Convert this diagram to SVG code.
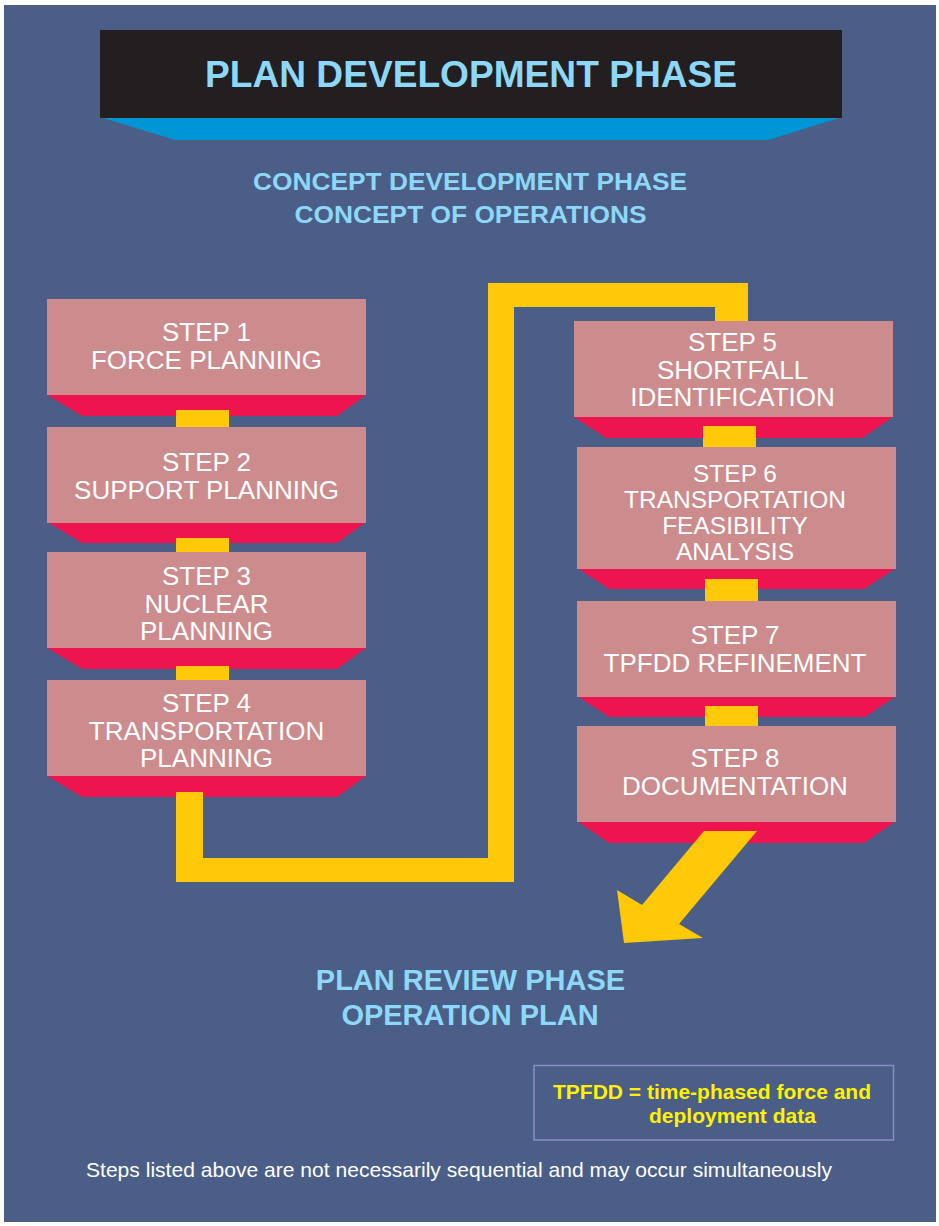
<svg xmlns="http://www.w3.org/2000/svg" width="939" height="1226" viewBox="0 0 939 1226">
<style>
.box{fill:#cc8b8c}
.base{fill:#ee1450}
.conn{fill:#ffc90a}
.st{font-family:"Liberation Sans",Arial,sans-serif;font-size:26px;fill:#ffffff;text-anchor:middle}
.st6{font-size:24.5px}
.hd{font-family:"Liberation Sans",Arial,sans-serif;font-weight:bold;fill:#8dd8f8;text-anchor:middle}
</style>
<rect x="0" y="0" width="939" height="1226" fill="#ffffff"/>
<rect x="4" y="5" width="932" height="1217" fill="#4a5e87"/>

<g id="title">
<polygon points="100,117 842,117 768,140 175,140" fill="#0096d6"/>
<rect x="100" y="30" width="742" height="88" fill="#231f20"/>
<text class="hd" x="471" y="87" font-size="37" textLength="532" lengthAdjust="spacingAndGlyphs">PLAN DEVELOPMENT PHASE</text>
</g>

<g id="concept-heading">
<text class="hd" x="470" y="190" font-size="24" textLength="434" lengthAdjust="spacingAndGlyphs">CONCEPT DEVELOPMENT PHASE</text>
<text class="hd" x="470.5" y="223" font-size="24" textLength="352" lengthAdjust="spacingAndGlyphs">CONCEPT OF OPERATIONS</text>
</g>

<g id="step1">
<polygon class="base" points="47,395 366,395 337,416 82,416"/>
<rect class="box" x="47" y="299" width="319" height="96"/>
<text class="st" x="206.5" y="341">STEP 1</text>
<text class="st" x="206.5" y="369">FORCE PLANNING</text>
</g>
<g id="step2">
<polygon class="base" points="47,522 366,522 337,543 82,543"/>
<rect class="box" x="47" y="427" width="319" height="96"/>
<text class="st" x="206.5" y="470.5">STEP 2</text>
<text class="st" x="206.5" y="498.5">SUPPORT PLANNING</text>
</g>
<g id="step3">
<polygon class="base" points="47,648 366,648 337,669 82,669"/>
<rect class="box" x="47" y="552" width="319" height="96"/>
<text class="st" x="206.5" y="585">STEP 3</text>
<text class="st" x="206.5" y="612.5">NUCLEAR</text>
<text class="st" x="206.5" y="640">PLANNING</text>
</g>
<g id="step4">
<polygon class="base" points="47,776 366,776 337,797 82,797"/>
<rect class="box" x="47" y="680" width="319" height="96"/>
<text class="st" x="206.5" y="712">STEP 4</text>
<text class="st" x="206.5" y="739.5">TRANSPORTATION</text>
<text class="st" x="206.5" y="767">PLANNING</text>
</g>

<g id="step5">
<polygon class="base" points="574,417 893,417 862,438 606,438"/>
<rect class="box" x="574" y="321" width="319" height="96"/>
<text class="st" x="732.5" y="351">STEP 5</text>
<text class="st" x="732.5" y="378.5">SHORTFALL</text>
<text class="st" x="732.5" y="406">IDENTIFICATION</text>
</g>
<g id="step6">
<polygon class="base" points="577,568 896,568 864,589 609,589"/>
<rect class="box" x="577" y="447" width="319" height="122"/>
<text class="st st6" x="735" y="482">STEP 6</text>
<text class="st st6" x="735" y="508">TRANSPORTATION</text>
<text class="st st6" x="735" y="534">FEASIBILITY</text>
<text class="st st6" x="735" y="560">ANALYSIS</text>
</g>
<g id="step7">
<polygon class="base" points="577,696 896,696 865,717 609,717"/>
<rect class="box" x="577" y="601" width="319" height="96"/>
<text class="st" x="735" y="644">STEP 7</text>
<text class="st" x="735" y="672">TPFDD REFINEMENT</text>
</g>
<g id="step8">
<polygon class="base" points="577,821 896,821 864,843 609,843"/>
<rect class="box" x="577" y="726" width="319" height="96"/>
<text class="st" x="735" y="766.5">STEP 8</text>
<text class="st" x="735" y="794.5">DOCUMENTATION</text>
</g>

<g id="connectors">
<rect class="conn" x="176" y="410" width="53" height="17"/>
<rect class="conn" x="176" y="538" width="53" height="14"/>
<rect class="conn" x="176" y="666" width="53" height="14"/>
<polygon class="conn" points="176,792 203,792 203,858 488,858 488,283 748,283 748,321 715,321 715,307 514,307 514,882 176,882"/>
<rect class="conn" x="703" y="426" width="53" height="21"/>
<rect class="conn" x="705" y="579" width="53" height="22"/>
<rect class="conn" x="705" y="706" width="53" height="20"/>
<polygon class="conn" points="704,831 757,831 679,924 703,938 624,943 617,890 642,905"/>
</g>

<g id="review-heading">
<text class="hd" x="470.5" y="990" font-size="29">PLAN REVIEW PHASE</text>
<text class="hd" x="470" y="1025" font-size="29">OPERATION PLAN</text>
</g>

<g id="legend">
<rect x="534" y="1065.5" width="359.5" height="74.5" fill="none" stroke="#8a8ec8" stroke-width="1.5"/>
<text x="553" y="1099" font-family="'Liberation Sans',Arial,sans-serif" font-weight="bold" font-size="21" fill="#fff200">TPFDD = time-phased force and</text>
<text x="649" y="1123" font-family="'Liberation Sans',Arial,sans-serif" font-weight="bold" font-size="21" fill="#fff200">deployment data</text>
</g>

<g id="footnote">
<text x="86" y="1177" font-family="'Liberation Sans',Arial,sans-serif" font-size="21" fill="#ffffff" textLength="746" lengthAdjust="spacingAndGlyphs">Steps listed above are not necessarily sequential and may occur simultaneously</text>
</g>
</svg>
